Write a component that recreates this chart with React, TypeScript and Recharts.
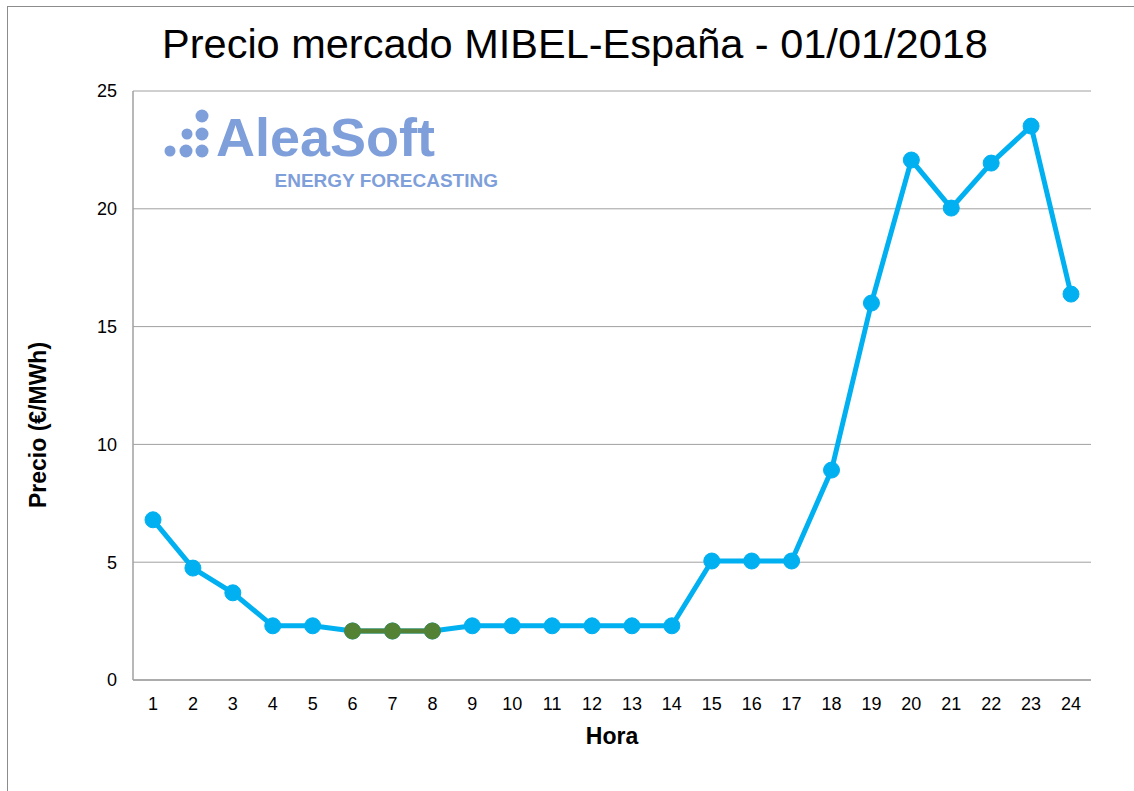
import { LineChart, Line, XAxis, YAxis, CartesianGrid } from "recharts"

const hours = ["1", "2", "3", "4", "5", "6", "7", "8", "9", "10", "11", "12", "13", "14", "15", "16", "17", "18", "19", "20", "21", "22", "23", "24"]
const prices = [6.8, 4.75, 3.7, 2.3, 2.3, 2.08, 2.08, 2.08, 2.3, 2.3, 2.3, 2.3, 2.3, 2.3, 5.05, 5.05, 5.05, 8.91, 16.0, 22.07, 20.03, 21.94, 23.51, 16.38]
const minHours = ["6", "7", "8"]
const yTicks = [0, 5, 10, 15, 20, 25]

const BLUE = "#00B0F0"
const GREEN = "#548235"
const GRID = "#a0a0a0"
const LOGO = "#7f9fdb"
const FONT = "'Liberation Sans', Arial, sans-serif"

const data = hours.map((h, i) => ({
  hora: h,
  precio: prices[i],
  minimo: minHours.includes(h) ? prices[i] : null,
}))

export default function App() {
  return (
    <div style={{ position: "absolute", left: 0, top: 0, width: 1134, height: 791, overflow: "hidden", background: "#fff" }}>
      <div style={{ position: "absolute", left: 7, top: 6, width: 1150, height: 820, border: "1px solid #8c8c8c" }} />
      <LineChart
        width={1134}
        height={791}
        data={data}
        margin={{ top: 91, right: 43, left: 8, bottom: 30 }}
        style={{ position: "absolute", left: 0, top: 0, fontFamily: FONT }}
      >
        <CartesianGrid vertical={false} stroke={GRID} strokeWidth={1} />
        <XAxis
          dataKey="hora"
          height={81}
          padding={{ left: 20, right: 20 }}
          tickSize={0}
          tickMargin={17}
          axisLine={{ stroke: GRID, strokeWidth: 1.5 }}
          tick={{ fontSize: 18, fill: "#000", fontFamily: FONT }}
          interval={0}
        />
        <YAxis
          width={125}
          domain={[0, 25]}
          ticks={yTicks}
          tickSize={0}
          tickMargin={16}
          axisLine={{ stroke: GRID, strokeWidth: 1.5 }}
          tick={{ fontSize: 18, fill: "#000", fontFamily: FONT }}
        />
        <YAxis
          yAxisId="right"
          orientation="right"
          width={0}
          domain={[0, 25]}
          tick={false}
          tickLine={false}
          axisLine={{ stroke: GRID, strokeWidth: 1.5 }}
        />
        <Line
          dataKey="precio"
          type="linear"
          stroke={BLUE}
          strokeWidth={5}
          dot={{ r: 8, fill: BLUE, stroke: BLUE, strokeWidth: 1 }}
          activeDot={false}
          isAnimationActive={false}
        />
        <Line
          dataKey="minimo"
          type="linear"
          stroke={GREEN}
          strokeWidth={5}
          dot={{ r: 8, fill: GREEN, stroke: GREEN, strokeWidth: 1 }}
          activeDot={false}
          connectNulls={false}
          isAnimationActive={false}
        />
      </LineChart>

      {/* title, axis titles and logo */}
      <svg width={1134} height={791} style={{ position: "absolute", left: 0, top: 0, pointerEvents: "none", fontFamily: FONT }}>
        <text x={575} y={58} textAnchor="middle" fontSize={41.5} fill="#000">
          Precio mercado MIBEL-España - 01/01/2018
        </text>
        <text x={612} y={744} textAnchor="middle" fontSize={23} fontWeight="bold" fill="#000">
          Hora
        </text>
        <text x={38} y={425} transform="rotate(-90 38 425)" textAnchor="middle" dominantBaseline="central" fontSize={23} fontWeight="bold" fill="#000">
          Precio (€/MWh)
        </text>
        <g fill={LOGO}>
          <circle cx={170} cy={151} r={5.5} />
          <circle cx={186} cy={151} r={6.5} />
          <circle cx={202} cy={151} r={6.5} />
          <circle cx={187} cy={134} r={5.5} />
          <circle cx={202} cy={134} r={6.5} />
          <circle cx={202} cy={116} r={6.5} />
          <text x={216} y={156} fontSize={54} fontWeight="bold">AleaSoft</text>
          <text x={498} y={187} textAnchor="end" fontSize={19} fontWeight="bold">ENERGY FORECASTING</text>
        </g>
      </svg>
    </div>
  )
}
